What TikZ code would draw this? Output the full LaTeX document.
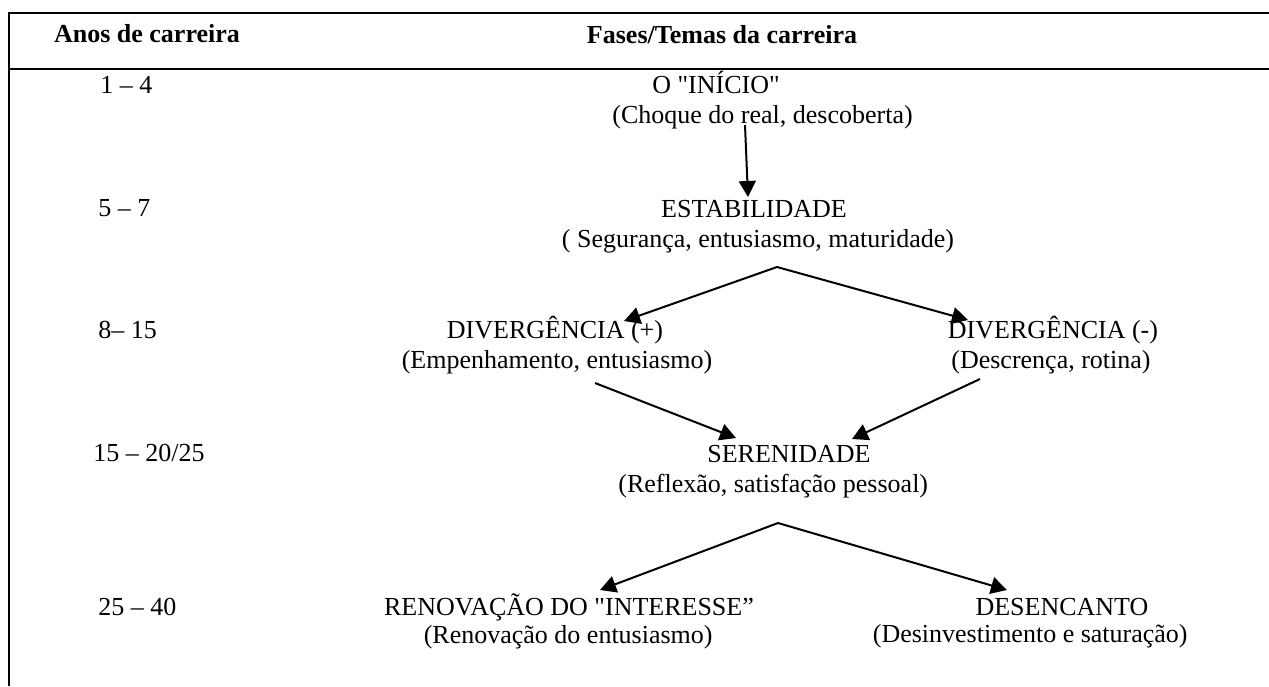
\documentclass[tikz,border=0pt]{standalone}
\usepackage{fontspec}
\setmainfont{Liberation Serif}[Ligatures=TeXOff]
\usetikzlibrary{arrows.meta}
\tikzset{
  fase/.style={anchor=base,inner sep=0pt,font=\fontsize{13}{15}\selectfont},
  anos/.style={anchor=base west,inner sep=0pt,font=\fontsize{13}{15}\selectfont},
  titulo/.style={anchor=base,inner sep=0pt,font=\fontsize{13}{15}\selectfont\bfseries},
  seta/.style={line width=1pt,-{Triangle[length=8pt,width=8.5pt]}},
  moldura/.style={line width=1.1pt}
}

\begin{document}
\begin{tikzpicture}[x=0.5pt,y=-0.5pt]
\useasboundingbox (0,0) rectangle (1269,686);

%frame
\draw[moldura] (1269,13) -- (9,13) -- (9,686);
\draw[moldura] (9,69) -- (1269,69);

%header
\node[titulo] (hanos) at (147,42) {Anos de carreira};
\node[titulo] (hfases) at (722,43) {Fases/Temas da carreira};

%years
\node[anos] (a1) at (100,93) {1 – 4};
\node[anos] (a2) at (98,216) {5 – 7};
\node[anos] (a3) at (98,338) {8– 15};
\node[anos] (a4) at (93,461) {15 – 20/25};
\node[anos] (a5) at (98,615) {25 – 40};

%inicio
\node[fase] (inicio) at (716,93) {O "INÍCIO"};
\node[fase,anchor=base west] (inicio-sub) at (612,123) {(Choque do real, descoberta)};

%estabilidade
\node[fase] (estab) at (754,217) {ESTABILIDADE};
\node[fase] (estab-sub) at (758,247) {( Segurança, entusiasmo, maturidade)};

%divergencia
\node[fase] (divmais) at (555,338) {DIVERGÊNCIA (+)};
\node[fase] (divmais-sub) at (557,368) {(Empenhamento, entusiasmo)};
\node[fase] (divmenos) at (1053,338) {DIVERGÊNCIA (-)};
\node[fase] (divmenos-sub) at (1051,368) {(Descrença, rotina)};

%serenidade
\node[fase] (seren) at (789,462) {SERENIDADE};
\node[fase,anchor=base west] (seren-sub) at (618,492) {(Reflexão, satisfação pessoal)};

%renovacao / desencanto
\node[fase] (renov) at (569,615) {RENOVAÇÃO DO "INTERESSE”};
\node[fase,anchor=base east] (renov-sub) at (713,643) {(Renovação do entusiasmo)};
\node[fase] (desenc) at (1062,615) {DESENCANTO};
\node[fase,anchor=base east] (desenc-sub) at (1188,642) {(Desinvestimento e saturação)};

%arrow ends
\coordinate (c1) at (745,125);
\coordinate (t1) at (748,197);
\coordinate (fork1) at (777,267);
\coordinate (t2) at (624,321);
\coordinate (t3) at (968,320);
\coordinate (c4) at (595,383);
\coordinate (t4) at (736,438);
\coordinate (c5) at (980,379);
\coordinate (t5) at (852,439);
\coordinate (fork2) at (778,523);
\coordinate (t6) at (600,590);
\coordinate (t7) at (1007,590);

%arrows
\draw[seta] (c1) -- (t1);
\draw[seta] (fork1) -- (t2);
\draw[seta] (fork1) -- (t3);
\draw[seta] (c4) -- (t4);
\draw[seta] (c5) -- (t5);
\draw[seta] (fork2) -- (t6);
\draw[seta] (fork2) -- (t7);
\end{tikzpicture}
\end{document}
